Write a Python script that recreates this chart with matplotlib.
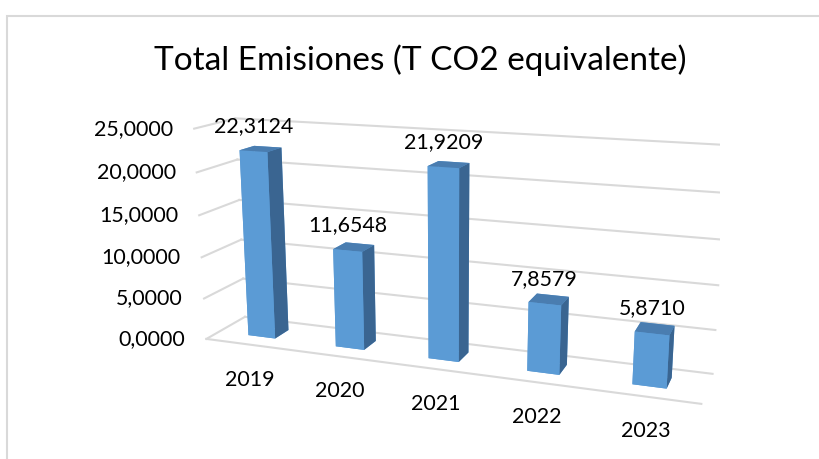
import numpy as np
import matplotlib.pyplot as plt
from matplotlib.patches import Rectangle
from mpl_toolkits.mplot3d import proj3d

years = ['2019', '2020', '2021', '2022', '2023']
emisiones = [22.3124, 11.6548, 21.9209, 7.8579, 5.8710]
ticks = [0, 5, 10, 15, 20, 25]

def coma(v):
    return f"{v:.4f}".replace('.', ',')

plt.rcParams['font.family'] = ['Lato', 'DejaVu Sans']

fig = plt.figure(figsize=(8.19, 4.59), dpi=100)
fig.patches.append(Rectangle((7/819, -0.1), 1.2, 1 - 16/459 + 0.1, transform=fig.transFigure,
                             fill=False, edgecolor='#D9D9D9', lw=1.5))
fig.text(0.513, 1 - 60/459, 'Total Emisiones (T CO2 equivalente)', ha='center', va='center',
         fontsize=24, color='#000000')

# vista tipo Excel (giro X ~20, giro Y ~15, con perspectiva)
ax = fig.add_axes([0.1975, -0.1665, 0.6814, 1.2158], projection='3d', computed_zorder=False)
ax.set_proj_type('persp', focal_length=0.367)
ax.view_init(elev=14.6, azim=-69.9)
ax.set_box_aspect((5, 0.775, 2.167), zoom=1)
ax.set_axis_off()

x0, x1 = -0.5, len(years) - 0.5
y0, y1 = 0.0, 1.0
ax.set_xlim(x0, x1)
ax.set_ylim(y0, y1)
ax.set_zlim(0, 25)

grid = '#D9D9D9'
for t in ticks:
    ax.plot([x0, x1], [y1, y1], [t, t], color=grid, lw=1.5, zorder=1)
    ax.plot([x0, x0], [y0, y1], [t, t], color=grid, lw=1.5, zorder=1)
ax.plot([x0, x1], [y0, y0], [0, 0], color=grid, lw=1.5, zorder=1)

x = np.arange(len(years))
ancho = 0.312
fondo, prof = 0.327, 0.371
# caras: -z, +z, -y, +y, -x, +x
caras = ['#5B9BD5', '#4A7DB0', '#5B9BD5', '#5B9BD5', '#5B9BD5', '#3A6591']
ax.bar3d(x - ancho / 2, fondo, 0, ancho, prof, emisiones, color=caras * len(years),
         shade=False, zorder=3)

fig.canvas.draw()
M = ax.get_proj()

def punto(px, py, pz):
    u, v, _ = proj3d.proj_transform(px, py, pz, M)
    return u, v

for t in ticks:
    ax.annotate(coma(t), punto(x0, y0, t), xytext=(-21, 0), textcoords='offset pixels',
                ha='right', va='center', fontsize=15.4, annotation_clip=False)
for i, v in enumerate(emisiones):
    ax.annotate(coma(v), punto(i, fondo, v), xytext=(0, 25), textcoords='offset pixels',
                ha='center', va='center', fontsize=15.4, zorder=5, annotation_clip=False)
    ax.annotate(years[i], punto(i, y0, 0), xytext=(1, -35), textcoords='offset pixels',
                ha='center', va='center', fontsize=15.4, annotation_clip=False)

fig.savefig('out.png', dpi=100)
